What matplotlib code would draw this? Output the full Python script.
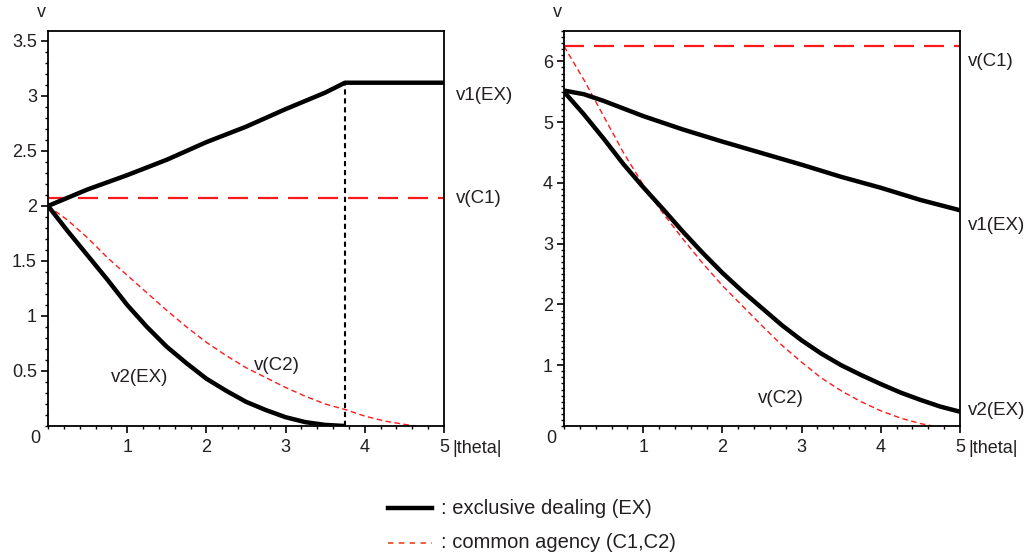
import numpy as np
import matplotlib
matplotlib.use("Agg")
import matplotlib.pyplot as plt
from matplotlib.lines import Line2D
from matplotlib.ticker import MultipleLocator

plt.rcParams['font.family'] = ['Liberation Sans', 'DejaVu Sans']

# --- left panel data ---
th_v1_left = [0, 0.5, 1, 1.5, 2, 2.5, 3, 3.5, 3.75, 5]
v1_left = [2.0, 2.15, 2.28, 2.42, 2.58, 2.72, 2.88, 3.03, 3.12, 3.12]

th_v2_left = [0, 0.25, 0.5, 0.75, 1, 1.25, 1.5, 1.75, 2, 2.25, 2.5, 2.75, 3, 3.25, 3.5, 3.75]
v2_left = [2.0, 1.77, 1.55, 1.33, 1.1, 0.9, 0.72, 0.57, 0.43, 0.32, 0.22, 0.145, 0.08, 0.035, 0.01, 0.0]

vc1_left = 2.075
th_c2_left = [0, 0.25, 0.5, 0.75, 1, 1.25, 1.5, 1.75, 2, 2.25, 2.5, 2.75, 3, 3.25, 3.5, 3.75, 4, 4.25, 4.5, 4.65]
vc2_left = [2.0, 1.87, 1.71, 1.53, 1.37, 1.21, 1.05, 0.9, 0.76, 0.64, 0.53, 0.44, 0.35, 0.27, 0.2, 0.15, 0.09, 0.045, 0.015, 0.0]
theta_cut = 3.75

# --- right panel data ---
th_v1_right = [0, 0.25, 0.5, 1, 1.5, 2, 2.5, 3, 3.5, 4, 4.5, 5]
v1_right = [5.52, 5.46, 5.35, 5.1, 4.88, 4.68, 4.49, 4.3, 4.1, 3.92, 3.72, 3.55]

th_v2_right = [0, 0.25, 0.5, 0.75, 1, 1.25, 1.5, 1.75, 2, 2.25, 2.5, 2.75, 3, 3.25, 3.5, 3.75, 4, 4.25, 4.5, 4.75, 5]
v2_right = [5.5, 5.13, 4.73, 4.31, 3.93, 3.57, 3.2, 2.85, 2.52, 2.22, 1.94, 1.66, 1.41, 1.19, 1.0, 0.84, 0.69, 0.55, 0.43, 0.32, 0.235]

vc1_right = 6.25
th_c2_right = [0, 0.25, 0.5, 0.75, 1, 1.25, 1.5, 1.75, 2, 2.25, 2.5, 2.75, 3, 3.25, 3.5, 3.75, 4, 4.25, 4.5, 4.66]
vc2_right = [6.25, 5.7, 5.1, 4.5, 3.97, 3.5, 3.08, 2.68, 2.31, 1.98, 1.65, 1.33, 1.05, 0.79, 0.58, 0.4, 0.25, 0.13, 0.04, 0.0]

txt = '#231f20'
red = '#ff1a1a'

fig = plt.figure(figsize=(10.32, 5.56), dpi=100)
axL = fig.add_axes([48 / 1032, 130 / 556, 396 / 1032, 395 / 556])
axR = fig.add_axes([564 / 1032, 130 / 556, 396 / 1032, 395 / 556])


def style(ax, ymax, yminor, yticks):
    ax.set_xlim(0, 5)
    ax.set_ylim(0, ymax)
    ax.xaxis.set_minor_locator(MultipleLocator(0.2))
    ax.yaxis.set_minor_locator(MultipleLocator(yminor))
    ax.set_xticks([1, 2, 3, 4, 5])
    ax.set_yticks(yticks)
    ax.tick_params(which='major', direction='out', length=5, width=1.2, labelsize=13,
                   colors='black', labelcolor=txt)
    ax.tick_params(which='minor', direction='out', length=2.5, width=1)
    ax.tick_params(axis='x', pad=4)
    ax.tick_params(axis='y', pad=3)
    for s in ax.spines.values():
        s.set_linewidth(1.3)
    ax.text(-0.02, -0.01, '0', transform=ax.transAxes, ha='right', va='top',
            fontsize=13, color=txt)
    ax.text(1.022, -0.035, '|theta|', transform=ax.transAxes, ha='left', va='top',
            fontsize=13, color=txt)
    ax.text(-0.005, 1.025, 'v', transform=ax.transAxes, ha='right', va='bottom',
            fontsize=13, color=txt)


# left panel
style(axL, 3.59, 0.1, [0.5, 1, 1.5, 2, 2.5, 3, 3.5])
axL.set_yticklabels(['0.5', '1', '1.5', '2', '2.5', '3', '3.5'])
axL.axhline(vc1_left, color=red, lw=1.6, dashes=(9, 4.5))
axL.plot(th_c2_left, vc2_left, color=red, lw=1.0, dashes=(4, 2.5))
axL.plot([theta_cut, theta_cut], [0, v1_left[-1]], color='black', lw=1.5, dashes=(2.5, 1.8))
axL.plot(th_v1_left, v1_left, color='black', lw=3.2, solid_capstyle='butt')
axL.plot(th_v2_left, v2_left, color='black', lw=3.2, solid_capstyle='butt')
axL.text(5.15, 3.0, 'v1(EX)', fontsize=13.5, color=txt, ha='left', va='center', clip_on=False)
axL.text(5.15, 2.07, 'v(C1)', fontsize=13.5, color=txt, ha='left', va='center', clip_on=False)
axL.text(0.8, 0.44, 'v2(EX)', fontsize=13.5, color=txt, ha='left', va='center')
axL.text(2.6, 0.55, 'v(C2)', fontsize=13.5, color=txt, ha='left', va='center')

# right panel
style(axR, 6.5, 0.1, [1, 2, 3, 4, 5, 6])
axR.axhline(vc1_right, color=red, lw=1.6, dashes=(9, 4.5))
axR.plot(th_c2_right, vc2_right, color=red, lw=1.0, dashes=(4, 2.5))
axR.plot(th_v1_right, v1_right, color='black', lw=3.2, solid_capstyle='butt')
axR.plot(th_v2_right, v2_right, color='black', lw=3.2, solid_capstyle='butt')
axR.text(5.1, 6.0, 'v(C1)', fontsize=13.5, color=txt, ha='left', va='center', clip_on=False)
axR.text(5.1, 3.3, 'v1(EX)', fontsize=13.5, color=txt, ha='left', va='center', clip_on=False)
axR.text(5.1, 0.26, 'v2(EX)', fontsize=13.5, color=txt, ha='left', va='center', clip_on=False)
axR.text(2.45, 0.46, 'v(C2)', fontsize=13.5, color=txt, ha='left', va='center')

# legend drawn as figure artists
fig.add_artist(Line2D([388 / 1032, 432 / 1032], [1 - 508 / 556, 1 - 508 / 556],
                      color='black', lw=3.2, transform=fig.transFigure))
fig.add_artist(Line2D([388 / 1032, 432 / 1032], [1 - 543 / 556, 1 - 543 / 556],
                      color='#e8552a', lw=1.3, dashes=(3, 3), transform=fig.transFigure))
fig.text(441 / 1032, 1 - 508 / 556, ': exclusive dealing (EX)', fontsize=14.5, color=txt, va='center')
fig.text(441 / 1032, 1 - 543 / 556, ': common agency (C1,C2)', fontsize=14.5, color=txt, va='center')

fig.savefig('out.png', dpi=100)
